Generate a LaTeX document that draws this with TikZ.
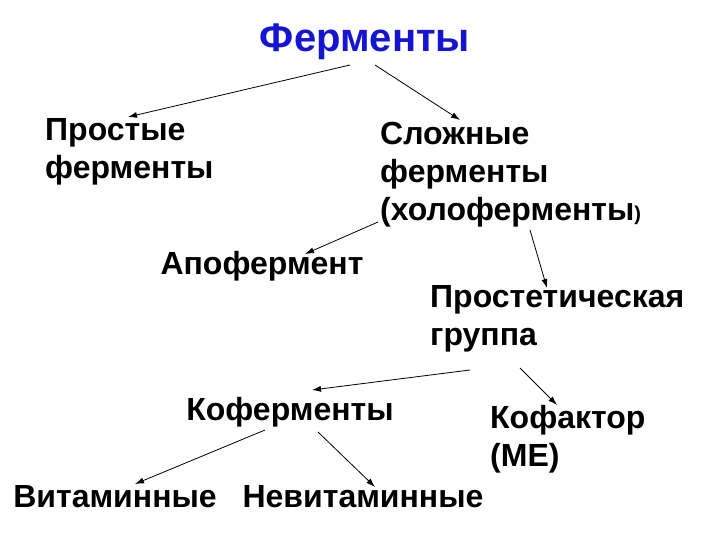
\documentclass[tikz,border=0pt]{standalone}
\usepackage{fontspec}
\setmainfont{Liberation Sans}
\usetikzlibrary{arrows.meta}
\begin{document}
\begin{tikzpicture}[x=1pt,y=-1pt,
  lbl/.style={font=\fontsize{32}{38}\selectfont\bfseries, inner sep=0pt, align=left},
  arr/.style={-{Latex[length=9pt,width=6pt]}, line width=0.8pt}]
\useasboundingbox (0,0) rectangle (720,540);
\node[font=\fontsize{40}{44}\selectfont\bfseries, text={rgb,255:red,20;green,20;blue,210}] (t) at (365,42) {Ферменты};
\node[lbl, anchor=north west] (s) at (45,118) {Простые\\ферменты};
\node[lbl, anchor=north west] (c) at (380,122) {Сложные\\ферменты\\(холоферменты{\fontsize{20}{20}\selectfont)}};
\node[lbl] (a) at (262,266) {Апофермент};
\node[lbl, anchor=north west] (p) at (430,285) {Простетическая\\группа};
\node[lbl] (k) at (290,412) {Коферменты};
\node[lbl, anchor=north west] (f) at (490,405) {Кофактор\\(МЕ)};
\node[lbl] (v) at (115,497) {Витаминные};
\node[lbl] (n) at (363,497) {Невитаминные};
\coordinate (t1) at (350,65); \coordinate (s1) at (128,117);
\coordinate (t2) at (375,65); \coordinate (c1) at (460,120);
\coordinate (c2) at (378,222); \coordinate (a1) at (305,254);
\coordinate (c3) at (530,230); \coordinate (p1) at (547,288);
\coordinate (p2) at (470,370); \coordinate (k1) at (312,390);
\coordinate (p3) at (520,368); \coordinate (f1) at (557,405);
\coordinate (k2) at (265,430); \coordinate (v1) at (135,484);
\coordinate (k3) at (318,432); \coordinate (n1) at (375,487);
\draw[arr] (t1) -- (s1);
\draw[arr] (t2) -- (c1);
\draw[arr] (c2) -- (a1);
\draw[arr] (c3) -- (p1);
\draw[arr] (p2) -- (k1);
\draw[arr] (p3) -- (f1);
\draw[arr] (k2) -- (v1);
\draw[arr] (k3) -- (n1);
\end{tikzpicture}
\end{document}
